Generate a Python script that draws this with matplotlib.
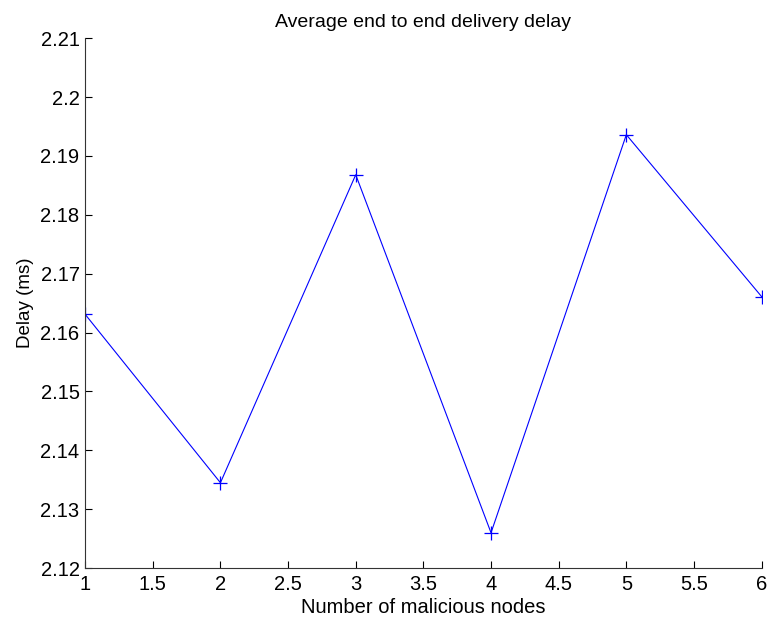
import matplotlib
matplotlib.use("Agg")
import matplotlib.pyplot as plt

plt.rcParams['font.family'] = ['Liberation Sans', 'DejaVu Sans']

# number of malicious nodes vs average delay
nodes = [1, 2, 3, 4, 5, 6]
delay = [2.1631, 2.1345, 2.1868, 2.1260, 2.1936, 2.1661]

fig = plt.figure(figsize=(7.67, 6.25), dpi=100)
ax = fig.add_axes([0.111, 0.091, 0.882, 0.848])

ax.plot(nodes, delay, color='blue', lw=0.8, marker='+', ms=10, mew=0.9)

ax.set_xlim(1, 6)
ax.set_ylim(2.12, 2.21)
ax.set_xticks([1, 1.5, 2, 2.5, 3, 3.5, 4, 4.5, 5, 5.5, 6])
ax.set_xticklabels(['1', '1.5', '2', '2.5', '3', '3.5', '4', '4.5', '5', '5.5', '6'])
ax.set_yticks([2.12, 2.13, 2.14, 2.15, 2.16, 2.17, 2.18, 2.19, 2.2, 2.21])
ax.set_yticklabels(['2.12', '2.13', '2.14', '2.15', '2.16', '2.17', '2.18', '2.19', '2.2', '2.21'])

ax.spines['top'].set_visible(False)
ax.spines['right'].set_visible(False)
ax.spines['left'].set_color('#333333')
ax.spines['bottom'].set_color('#333333')
ax.tick_params(direction='in', length=5, width=0.8, labelsize=14.5)
ax.tick_params(axis='x', pad=5)
ax.tick_params(axis='y', pad=4)

ax.set_title('Average end to end delivery delay', fontsize=14, pad=8)
ax.set_xlabel('Number of malicious nodes', fontsize=14.5, labelpad=3)
ax.set_ylabel('Delay (ms)', fontsize=13.5, labelpad=5)

fig.savefig('out.png', dpi=100)
